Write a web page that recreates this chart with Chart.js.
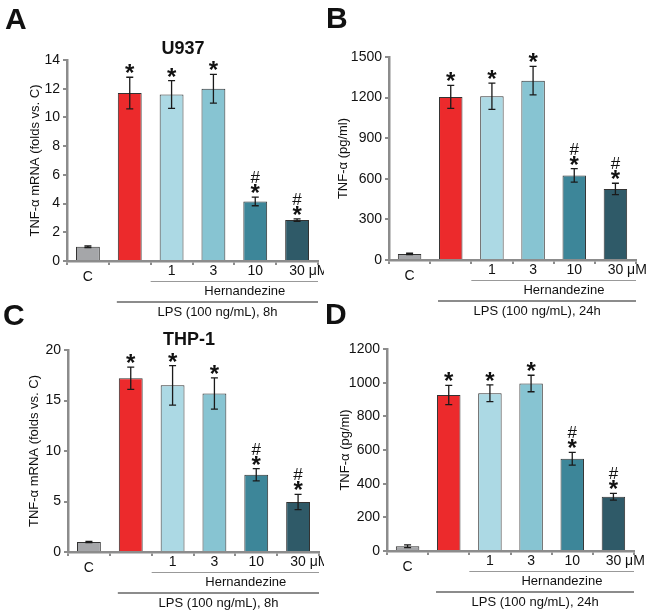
<!DOCTYPE html>
<html>
<head>
<meta charset="utf-8">
<script src="https://cdn.jsdelivr.net/npm/chart.js@4.4.1/dist/chart.umd.min.js"></script>
<style>
  body { margin: 0; background: #fff; }
  #wrap { position: relative; width: 648px; height: 613px; overflow: hidden; }
  canvas { position: absolute; }
</style>
</head>
<body>
<div id="wrap">
  <canvas id="chartA" width="324" height="322" style="left:0;top:0"></canvas>
  <canvas id="chartB" width="324" height="322" style="left:324px;top:0"></canvas>
  <canvas id="chartC" width="324" height="313" style="left:0;top:300px"></canvas>
  <canvas id="chartD" width="324" height="313" style="left:324px;top:300px"></canvas>
</div>
<script>
// Data
var categories = ["C", "", "1", "3", "10", "30 μM"];
var barColors = ["#a5a6a9", "#ec2a2c", "#acd9e4", "#87c4d2", "#3d8699", "#2f5a68"];

var u937Mrna = [1.0, 11.7, 11.6, 12.0, 4.15, 2.85];
var u937MrnaErr = [0.06, 1.1, 0.97, 1.0, 0.3, 0.08];
var u937Tnf = [45, 1205, 1210, 1325, 625, 525];
var u937TnfErr = [5, 85, 97, 105, 50, 42];
var thp1Mrna = [1.0, 17.2, 16.5, 15.7, 7.65, 4.95];
var thp1MrnaErr = [0.06, 1.1, 1.95, 1.55, 0.6, 0.75];
var thp1Tnf = [28, 927, 937, 995, 548, 322];
var thp1TnfErr = [8, 57, 50, 49, 38, 20];

var starMarks = ["", "*", "*", "*", "*", "*"];
var hashMarks = ["", "", "", "", "#", "#"];

var FONT = '"Liberation Sans", Arial, sans-serif';
var AXIS = "#8c8c8c";
Chart.defaults.font.family = FONT;

// error bars, significance marks, labels under the axis
var annotate = {
    id: "annotate",
    afterDatasetsDraw(chart, args, o) {
        var ctx = chart.ctx, y = chart.scales.y;
        var meta = chart.getDatasetMeta(0);
        var data = chart.data.datasets[0].data;
        ctx.save();
        meta.data.forEach(function (bar, i) {
            var top = y.getPixelForValue(data[i] + o.errors[i]);
            var bot = y.getPixelForValue(data[i] - o.errors[i]);
            ctx.strokeStyle = "#1a1a1a";
            ctx.lineWidth = 1.3;
            ctx.beginPath();
            ctx.moveTo(bar.x, top); ctx.lineTo(bar.x, bot);
            ctx.moveTo(bar.x - 3.5, top); ctx.lineTo(bar.x + 3.5, top);
            ctx.moveTo(bar.x - 3.5, bot); ctx.lineTo(bar.x + 3.5, bot);
            ctx.stroke();

            ctx.fillStyle = "#111";
            ctx.textAlign = "center";
            ctx.textBaseline = "alphabetic";
            var glyphTop = top - 3;
            if (starMarks[i]) {
                ctx.font = "bold 24px " + FONT;
                var m = ctx.measureText(starMarks[i]);
                var base = top - 4 - m.actualBoundingBoxDescent;
                ctx.fillText(starMarks[i], bar.x, base);
                glyphTop = base - m.actualBoundingBoxAscent;
            }
            if (hashMarks[i]) {
                ctx.font = "17px " + FONT;
                var h = ctx.measureText(hashMarks[i]);
                ctx.fillText(hashMarks[i], bar.x, glyphTop - 1 - h.actualBoundingBoxDescent);
            }
        });
        ctx.restore();
    },
    afterDraw(chart, args, o) {
        var ctx = chart.ctx, x = chart.scales.x;
        var area = chart.chartArea, b = area.bottom;
        ctx.save();
        ctx.fillStyle = "#111";
        ctx.textBaseline = "middle";
        ctx.font = "14px " + FONT;
        categories.forEach(function (c, i) {
            if (!c) return;
            var px = x.getPixelForValue(i);
            if (i === 0) {
                ctx.textAlign = "center";
                ctx.fillText(c, px, b + 16);
            } else if (c.indexOf(" ") > 0) {
                var first = c.split(" ")[0];
                ctx.textAlign = "left";
                ctx.fillText(c, px - ctx.measureText(first).width / 2, b + 10);
            } else {
                ctx.textAlign = "center";
                ctx.fillText(c, px, b + 10);
            }
        });

        // group lines
        var lps = chart.getDatasetMeta(0).data[1];
        ctx.strokeStyle = "#999";
        ctx.lineWidth = 1;
        ctx.beginPath();
        ctx.moveTo(x.getPixelForValue(1.5), b + 20.5);
        ctx.lineTo(area.right, b + 20.5);
        ctx.stroke();
        ctx.strokeStyle = AXIS;
        ctx.lineWidth = 1.8;
        ctx.beginPath();
        ctx.moveTo(lps.x - lps.width / 2 - 1, b + 41);
        ctx.lineTo(area.right, b + 41);
        ctx.stroke();

        ctx.font = "13px " + FONT;
        ctx.textAlign = "center";
        ctx.fillText("Hernandezine", x.getPixelForValue(3.75), b + 30);
        ctx.fillText(o.lpsText, x.getPixelForValue(3.1), b + 51);

        if (o.title) {
            ctx.font = "bold 18px " + FONT;
            ctx.fillText(o.title, o.titlePos[0], o.titlePos[1]);
        }
        ctx.font = "bold 30px " + FONT;
        ctx.textAlign = "left";
        ctx.textBaseline = "alphabetic";
        ctx.fillText(o.letter, o.letterPos[0], o.letterPos[1]);
        ctx.restore();
    }
};

function makePanel(id, values, errors, p) {
    new Chart(id, {
        type: "bar",
        data: {
            labels: categories,
            datasets: [{
                data: values,
                backgroundColor: barColors,
                borderColor: "#333",
                borderWidth: 1,
                barPercentage: 0.57,
                categoryPercentage: 1
            }]
        },
        options: {
            responsive: false,
            animation: false,
            layout: { padding: p.padding },
            plugins: {
                legend: { display: false },
                tooltip: { enabled: false },
                annotate: {
                    errors: errors,
                    lpsText: p.lpsText,
                    title: p.title,
                    titlePos: p.titlePos,
                    letter: p.letter,
                    letterPos: p.letterPos
                }
            },
            scales: {
                x: {
                    grid: { offset: true, drawOnChartArea: false, tickLength: 4, color: AXIS, lineWidth: 2 },
                    border: { color: AXIS, width: 2.5 },
                    ticks: { display: false },
                    afterFit: function (s) { s.height = 10; }
                },
                y: {
                    min: 0,
                    max: p.yMax,
                    ticks: {
                        stepSize: p.yStep, color: "#111", font: { size: 14 }, padding: 3,
                        callback: function (v) { return String(v); }
                    },
                    grid: { drawOnChartArea: false, tickLength: 4, color: AXIS, lineWidth: 2 },
                    border: { color: AXIS, width: 2.5 },
                    title: { display: true, text: p.yTitle, color: "#111", font: { size: 13 }, padding: 0 },
                    afterFit: function (s) { s.width = p.yWidth; }
                }
            }
        },
        plugins: [annotate]
    });
}

makePanel("chartA", u937Mrna, u937MrnaErr, {
    yMax: 14, yStep: 2, yTitle: "TNF-α mRNA (folds vs. C)", yWidth: 39,
    padding: { left: 28, right: 6, top: 60, bottom: 51 },
    lpsText: "LPS (100 ng/mL), 8h", title: "U937", titlePos: [183, 49],
    letter: "A", letterPos: [5, 29]
});
makePanel("chartB", u937Tnf, u937TnfErr, {
    yMax: 1500, yStep: 300, yTitle: "TNF-α (pg/ml)", yWidth: 53,
    padding: { left: 12, right: 12, top: 57, bottom: 52 },
    lpsText: "LPS (100 ng/mL), 24h", title: "", titlePos: [0, 0],
    letter: "B", letterPos: [2, 28]
});
makePanel("chartC", thp1Mrna, thp1MrnaErr, {
    yMax: 20, yStep: 5, yTitle: "TNF-α mRNA (folds vs. C)", yWidth: 41,
    padding: { left: 27, right: 5, top: 50, bottom: 51 },
    lpsText: "LPS (100 ng/mL), 8h", title: "THP-1", titlePos: [189, 40],
    letter: "C", letterPos: [3, 25]
});
makePanel("chartD", thp1Tnf, thp1TnfErr, {
    yMax: 1200, yStep: 200, yTitle: "TNF-α (pg/ml)", yWidth: 49,
    padding: { left: 14, right: 14, top: 49, bottom: 52 },
    lpsText: "LPS (100 ng/mL), 24h", title: "", titlePos: [0, 0],
    letter: "D", letterPos: [1, 24]
});
</script>
</body>
</html>
